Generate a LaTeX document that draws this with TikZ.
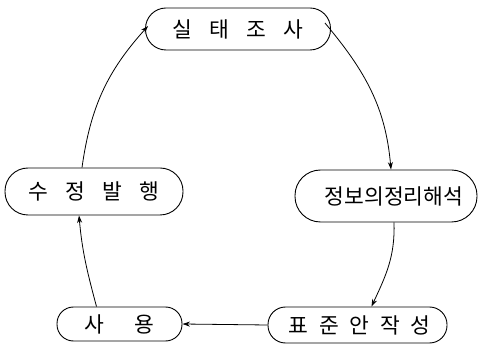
\documentclass[tikz,border=0pt]{standalone}
\usepackage{fontspec}
\newfontfamily\kr{Noto Sans CJK KR}
\usetikzlibrary{arrows.meta}
\begin{document}
\begin{tikzpicture}[x=1pt,y=-1pt,
  box/.style={draw,line width=0.9pt,inner sep=0pt,font=\kr\fontsize{21.5}{21.5}\selectfont},
  arr/.style={line width=0.8pt,-{Stealth[length=7.5pt,width=5pt]}}]
\useasboundingbox (0,0) rectangle (479,352);
\node[box,minimum width=185pt,minimum height=42pt,rounded corners=20.5pt] (top) at (238,29) {실\hspace{0.8em}태\hspace{0.8em}조\hspace{0.8em}사};
\node[box,minimum width=182pt,minimum height=52pt,rounded corners=25.5pt] (right) at (386,196) {\hspace{16pt}정보의정리해석};
\node[box,minimum width=178pt,minimum height=47pt,rounded corners=23pt] (left) at (94,191.5) {수\hspace{0.8em}정\hspace{0.8em}발\hspace{0.8em}행};
\node[box,minimum width=125pt,minimum height=34pt,rounded corners=16.5pt] (use) at (119.5,324) {사\hspace{1.4em}용};
\node[box,minimum width=179pt,minimum height=36pt,rounded corners=17.5pt] (std) at (357.5,325) {\hspace{4pt}표\hspace{0.5em}준\hspace{0.5em}안\hspace{0.5em}작\hspace{0.5em}성};
\draw[arr] ([xshift=-6pt,yshift=6pt]top.east) to[out=-50,in=95] ([xshift=5pt]right.north);
\draw[arr] ([xshift=8pt]right.south) to[out=-88,in=65] ([xshift=14pt]std.north);
\draw[arr] (std.west) -- (use.east);
\draw[arr] ([xshift=-23pt]use.north) to[out=105,in=-85] ([xshift=-15pt]left.south);
\draw[arr] ([xshift=-12pt]left.north) to[out=82,in=-132] ([xshift=3pt,yshift=3pt]top.west);
\end{tikzpicture}
\end{document}
